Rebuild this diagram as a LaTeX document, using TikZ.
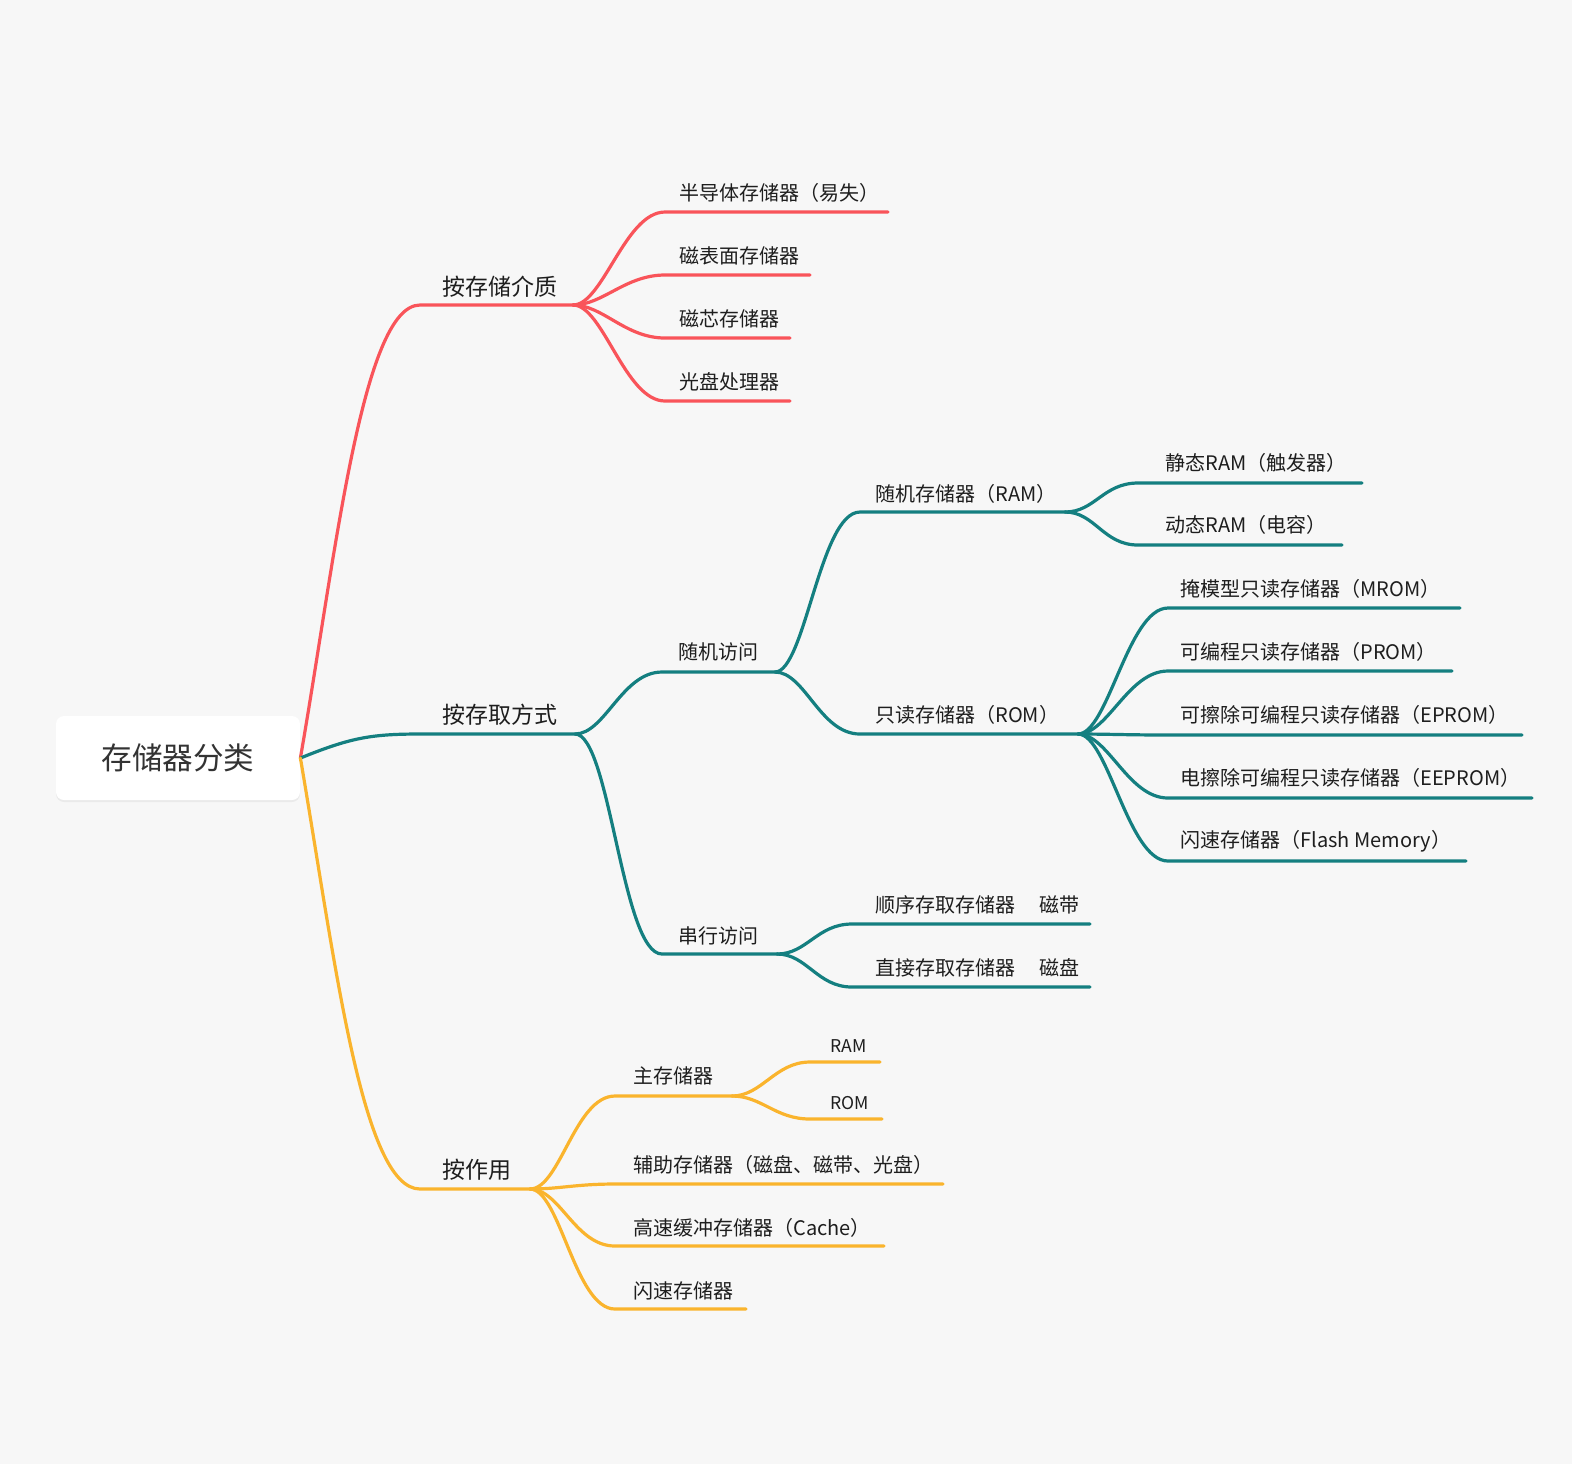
\documentclass[tikz,border=0pt]{standalone}
\usepackage{fontspec}
\setmainfont{Noto Sans CJK SC}
\usetikzlibrary{shadows}
\definecolor{bg}{HTML}{F7F7F7}
\definecolor{cred}{HTML}{F9545A}
\definecolor{cteal}{HTML}{147F80}
\definecolor{cyel}{HTML}{FAB42D}
\definecolor{txt}{HTML}{1E1E1E}
\definecolor{roottxt}{HTML}{333333}
\begin{document}
\begin{tikzpicture}[x=0.5pt,y=-0.5pt,
  br/.style={line width=1.6pt, line cap=round},
  lab/.style={anchor=west, inner sep=0pt, text=txt, font=\fontsize{10pt}{12pt}\selectfont},
  lab1/.style={lab, font=\fontsize{11.5pt}{14pt}\selectfont},
  lab3/.style={lab, font=\fontsize{8.8pt}{10pt}\selectfont},
  rootbox/.style={fill=white, rounded corners=4pt, minimum width=122pt, minimum height=42pt,
    inner sep=0pt, text=roottxt, font=\fontsize{15.3pt}{18pt}\selectfont,
    drop shadow={shadow xshift=0pt, shadow yshift=-1pt, opacity=0.05, fill=black}},
]
\fill[bg] (0,0) rectangle (1572,1464);
\useasboundingbox (0,0) rectangle (1572,1464);

% root
\node[rootbox] (root) at (178,758) {存储器分类};

% level 1 coordinates
\coordinate (a0) at (420,305);  \coordinate (a1) at (573,305);
\coordinate (b0) at (420,734);  \coordinate (b1) at (575,734);
\coordinate (c0) at (420,1189); \coordinate (c1) at (530,1189);
\node[lab1] (ta) at (442,287) {按存储介质};
\node[lab1] (tb) at (442,715) {按存取方式};
\node[lab1] (tc) at (442,1170) {按作用};

\draw[br,cred]  (root.east) .. controls (335,560) and (362,305) .. (a0) -- (a1);
\draw[br,cteal] (root.east) .. controls (350,738) and (370,734) .. (b0) -- (b1);
\draw[br,cyel]  (root.east) .. controls (335,960) and (362,1189) .. (c0) -- (c1);

% ---------- red branch ----------
\coordinate (a10) at (665,212); \coordinate (a11) at (888,212);
\coordinate (a20) at (665,275); \coordinate (a21) at (810,275);
\coordinate (a30) at (665,338); \coordinate (a31) at (790,338);
\coordinate (a40) at (665,401); \coordinate (a41) at (790,401);
\node[lab] (ta1) at (679,193) {半导体存储器（易失）};
\node[lab] (ta2) at (679,256) {磁表面存储器};
\node[lab] (ta3) at (679,319) {磁芯存储器};
\node[lab] (ta4) at (679,382) {光盘处理器};
\foreach \i in {1,2,3,4}{
  \draw[br,cred] (a1) .. controls +(30,0) and +(-40,0) .. (a\i0) -- (a\i1);
}

% ---------- teal branch ----------
\coordinate (b10) at (662,672); \coordinate (b11) at (775,672);
\coordinate (b20) at (662,954); \coordinate (b21) at (777,954);
\node[lab] (tb1) at (678,652) {随机访问};
\node[lab] (tb2) at (678,936) {串行访问};
\draw[br,cteal] (b1) .. controls +(30,0) and +(-40,0) .. (b10) -- (b11);
\draw[br,cteal] (b1) .. controls +(35,0) and +(-40,0) .. (b20) -- (b21);

% random access
\coordinate (b110) at (860,512); \coordinate (b111) at (1065,512);
\coordinate (b120) at (860,734); \coordinate (b121) at (1078,734);
\node[lab] (tb11) at (875,494) {随机存储器（RAM）};
\node[lab] (tb12) at (875,715) {只读存储器（ROM）};
\draw[br,cteal] (b11) .. controls +(30,0) and +(-40,0) .. (b110) -- (b111);
\draw[br,cteal] (b11) .. controls +(30,0) and +(-40,0) .. (b120) -- (b121);

% RAM
\coordinate (r10) at (1138,483); \coordinate (r11) at (1362,483);
\coordinate (r20) at (1138,545); \coordinate (r21) at (1342,545);
\node[lab] (tr1) at (1165,463) {静态RAM（触发器）};
\node[lab] (tr2) at (1165,525) {动态RAM（电容）};
\draw[br,cteal] (b111) .. controls +(30,0) and +(-35,0) .. (r10) -- (r11);
\draw[br,cteal] (b111) .. controls +(30,0) and +(-35,0) .. (r20) -- (r21);

% ROM
\coordinate (o10) at (1168,608); \coordinate (o11) at (1460,608);
\coordinate (o20) at (1168,671); \coordinate (o21) at (1452,671);
\coordinate (o30) at (1168,735); \coordinate (o31) at (1522,735);
\coordinate (o40) at (1168,798); \coordinate (o41) at (1532,798);
\coordinate (o50) at (1168,861); \coordinate (o51) at (1466,861);
\node[lab] (to1) at (1180,589) {掩模型只读存储器（MROM）};
\node[lab] (to2) at (1180,652) {可编程只读存储器（PROM）};
\node[lab] (to3) at (1180,715) {可擦除可编程只读存储器（EPROM）};
\node[lab] (to4) at (1180,778) {电擦除可编程只读存储器（EEPROM）};
\node[lab] (to5) at (1180,841) {闪速存储器（Flash Memory）};
\foreach \i in {1,2,3,4,5}{
  \draw[br,cteal] (b121) .. controls +(30,0) and +(-40,0) .. (o\i0) -- (o\i1);
}

% serial access
\coordinate (s10) at (852,924); \coordinate (s11) at (1090,924);
\coordinate (s20) at (852,987); \coordinate (s21) at (1090,987);
\node[lab] (ts1) at (875,905) {顺序存取存储器\hspace{1.2em}磁带};
\node[lab] (ts2) at (875,968) {直接存取存储器\hspace{1.2em}磁盘};
\draw[br,cteal] (b21) .. controls +(30,0) and +(-35,0) .. (s10) -- (s11);
\draw[br,cteal] (b21) .. controls +(30,0) and +(-35,0) .. (s20) -- (s21);

% ---------- yellow branch ----------
\coordinate (c10) at (615,1096); \coordinate (c11) at (732,1096);
\coordinate (c20) at (615,1184); \coordinate (c21) at (943,1184);
\coordinate (c30) at (615,1246); \coordinate (c31) at (884,1246);
\coordinate (c40) at (615,1309); \coordinate (c41) at (746,1309);
\node[lab] (tc1) at (633,1076) {主存储器};
\node[lab] (tc2) at (633,1165) {辅助存储器（磁盘、磁带、光盘）};
\node[lab] (tc3) at (633,1228) {高速缓冲存储器（Cache）};
\node[lab] (tc4) at (633,1291) {闪速存储器};
\foreach \i in {1,2,3,4}{
  \draw[br,cyel] (c1) .. controls +(30,0) and +(-40,0) .. (c\i0) -- (c\i1);
}

% main memory children
\coordinate (m10) at (810,1062); \coordinate (m11) at (880,1062);
\coordinate (m20) at (810,1119); \coordinate (m21) at (882,1119);
\node[lab3] (tm1) at (830,1046) {RAM};
\node[lab3] (tm2) at (830,1103) {ROM};
\draw[br,cyel] (c11) .. controls +(30,0) and +(-35,0) .. (m10) -- (m11);
\draw[br,cyel] (c11) .. controls +(30,0) and +(-35,0) .. (m20) -- (m21);
\end{tikzpicture}
\end{document}
